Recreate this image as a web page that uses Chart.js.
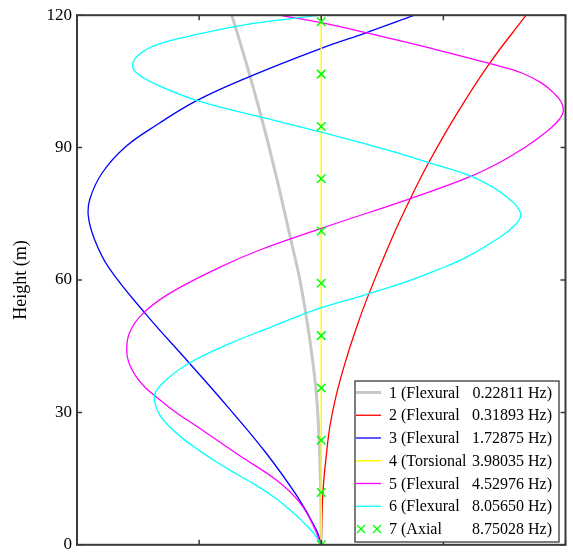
<!DOCTYPE html>
<html><head><meta charset="utf-8">
<script src="https://cdn.jsdelivr.net/npm/chart.js@4.4.1/dist/chart.umd.min.js"></script>
<style>html,body{margin:0;padding:0;background:#fff}#wrap{width:573px;height:560px;position:relative}</style>
</head><body><div id="wrap"><canvas id="c"></canvas></div>
<script>
// ---- data ----
const modeNumbers = [1, 2, 3, 4, 5, 6, 7];
const modeTypes = ["Flexural", "Flexural", "Flexural", "Torsional", "Flexural", "Flexural", "Axial"];
const modeFreqs = ["0.22811", "0.31893", "1.72875", "3.98035", "4.52976", "8.05650", "8.75028"];
const modeColors = ["#c8c8c8", "#ff0000", "#0000ff", "#ffff00", "#ff00ff", "#00ffff", "#00ff00"];
const yTicks = [0, 30, 60, 90, 120];
const xTicks = [-2, -1, 0, 1, 2];

// mode 1 (flexural)
const h1 = [0, 11.1, 22.3, 33.2, 42.3, 52.3, 60.6, 69.0, 78.4, 87.3, 96.2, 108.0, 120];
const d1 = [0, -0.004, -0.016, -0.037, -0.073, -0.126, -0.179, -0.248, -0.325, -0.402, -0.484, -0.602, -0.732];
// mode 2 (flexural)
const h2 = [0, 11.6, 21.2, 27.2, 33.8, 41.4, 48.8, 56.8, 69.0, 78.4, 86.5, 97.3, 108.8, 120];
const d2 = [0, 0.013, 0.045, 0.073, 0.122, 0.197, 0.283, 0.389, 0.572, 0.729, 0.878, 1.102, 1.371, 1.677];
// mode 3 (flexural)
const h3 = [0, 3.4, 10.9, 21.2, 31.2, 41.2, 52.1, 62.8, 69.0, 74.4, 78.4, 84.3, 90.2, 95.4, 100.6, 106.2, 112.5, 116.0, 120];
const d3 = [0, -0.041, -0.195, -0.463, -0.764, -1.081, -1.431, -1.740, -1.854, -1.907, -1.894, -1.793, -1.602, -1.333, -1.024, -0.577, 0, 0.366, 0.764];
// mode 4 (torsional)
const h4 = [0, 120];
const d4 = [0, 0];
// mode 5 (flexural)
const h5 = [0, 4.2, 9.4, 14.5, 20.5, 27.2, 30.1, 33.1, 35.6, 38.3, 41.4, 44.5, 48.1, 52.1, 56.8, 62.8, 66.8, 71.7, 78.4, 83.2, 86.8, 90.2, 93.1, 95.7, 98.0, 100.2, 102.4, 104.6, 106.9, 108.8, 112.4, 116.0, 118.3, 120];
const d5 = [0, -0.063, -0.171, -0.360, -0.685, -1.038, -1.195, -1.333, -1.439, -1.520, -1.577, -1.593, -1.569, -1.472, -1.252, -0.837, -0.504, 0, 0.724, 1.198, 1.472, 1.675, 1.821, 1.927, 1.980, 1.967, 1.902, 1.805, 1.642, 1.415, 0.911, 0.372, 0, -0.347];
// mode 6 (flexural)
const h6 = [0, 2.7, 5.3, 8.0, 10.7, 13.4, 16.0, 18.7, 21.4, 24.0, 26.7, 29.4, 32.1, 34.5, 37.6, 41.3, 45.7, 49.4, 52.0, 53.5, 56.3, 59.4, 62.3, 65.0, 69.5, 72.4, 74.6, 76.8, 78.4, 80.6, 83.6, 86.5, 88.6, 91.0, 93.2, 94.3, 96.6, 100.6, 104.4, 106.9, 108.8, 111.0, 113.3, 115.8, 118.1, 120];
const d6 = [0, -0.065, -0.154, -0.260, -0.382, -0.528, -0.691, -0.854, -1.000, -1.130, -1.240, -1.321, -1.362, -1.358, -1.260, -1.073, -0.740, -0.407, -0.171, -0.024, 0.317, 0.675, 0.951, 1.179, 1.455, 1.585, 1.634, 1.598, 1.537, 1.431, 1.220, 0.894, 0.650, 0.341, 0.041, -0.114, -0.447, -1.008, -1.358, -1.512, -1.545, -1.496, -1.350, -0.992, -0.569, 0];
// mode 7 (axial)
const h7 = [0, 11.85, 23.7, 35.55, 47.4, 59.25, 71.1, 82.95, 94.8, 106.65, 118.5];
const d7 = [0, 0, 0, 0, 0, 0, 0, 0, 0, 0, 0];

const heights = [h1, h2, h3, h4, h5, h6, h7];
const disps = [d1, d2, d3, d4, d5, d6, d7];
const lineWidths = [3, 1.3, 1.3, 1.5, 1.3, 1.3, 0];

const SERIF = "'Liberation Serif', 'Times New Roman', serif";

const datasets = heights.map((hs, i) => {
  const isAxial = i === 6;
  return {
    label: modeNumbers[i] + " (" + modeTypes[i] + " " + modeFreqs[i] + " Hz)",
    data: hs.map((h, k) => ({ x: disps[i][k], y: h })),
    showLine: !isAxial,
    borderColor: modeColors[i],
    backgroundColor: modeColors[i],
    borderWidth: isAxial ? 1.5 : lineWidths[i],
    pointRadius: isAxial ? 6 : 0,
    pointStyle: isAxial ? 'crossRot' : 'circle',
    pointBorderWidth: 1.5,
    tension: 0.4,
    order: 10 - i
  };
});

const framePlugin = {
  id: 'frame',
  afterDatasetsDraw(chart) {
    const { ctx, chartArea: a, scales } = chart;
    ctx.save();
    ctx.strokeStyle = '#3a3a3a';
    ctx.lineWidth = 1.5;
    const tl = 5;
    ctx.beginPath();
    yTicks.forEach(v => {
      const y = scales.y.getPixelForValue(v);
      ctx.moveTo(a.left, y); ctx.lineTo(a.left + tl, y);
      ctx.moveTo(a.right, y); ctx.lineTo(a.right - tl, y);
    });
    xTicks.forEach(v => {
      const x = scales.x.getPixelForValue(v);
      ctx.moveTo(x, a.top); ctx.lineTo(x, a.top + tl);
      ctx.moveTo(x, a.bottom); ctx.lineTo(x, a.bottom - tl);
    });
    ctx.stroke();
    ctx.lineWidth = 2;
    ctx.strokeRect(a.left, a.top, a.right - a.left, a.bottom - a.top);

    // legend box
    const L = 355, T = 381, R = 559, B = 542;
    ctx.fillStyle = '#ffffff';
    ctx.fillRect(L, T, R - L, B - T);
    ctx.lineWidth = 1.3;
    ctx.strokeStyle = '#3a3a3a';
    ctx.strokeRect(L, T, R - L, B - T);
    ctx.font = "16px " + SERIF;
    ctx.textBaseline = 'middle';
    ctx.fillStyle = '#000';
    modeNumbers.forEach((n, i) => {
      const cy = 392.5 + i * 22.75;
      if (i === 6) {
        ctx.strokeStyle = modeColors[i];
        ctx.lineWidth = 1.3;
        [361, 377].forEach(cx => {
          ctx.beginPath();
          ctx.moveTo(cx - 4, cy - 4); ctx.lineTo(cx + 4, cy + 4);
          ctx.moveTo(cx - 4, cy + 4); ctx.lineTo(cx + 4, cy - 4);
          ctx.stroke();
        });
      } else {
        ctx.strokeStyle = modeColors[i];
        ctx.lineWidth = lineWidths[i];
        ctx.beginPath();
        ctx.moveTo(356, cy); ctx.lineTo(381, cy);
        ctx.stroke();
      }
      ctx.textAlign = 'left';
      ctx.fillText(n + " (" + modeTypes[i], 389, cy + 1);
      ctx.textAlign = 'right';
      ctx.fillText(modeFreqs[i] + " Hz)", 552, cy + 1);
    });
    ctx.restore();
  }
};

new Chart(document.getElementById('c'), {
  type: 'scatter',
  data: { datasets },
  options: {
    responsive: true,
    maintainAspectRatio: false,
    animation: false,
    layout: { padding: { top: 13, right: 4, bottom: 8, left: 0 } },
    plugins: { legend: { display: false }, tooltip: { enabled: false } },
    scales: {
      x: { type: 'linear', min: -2, max: 2, display: false },
      y: {
        type: 'linear', min: 0, max: 120,
        afterFit(scale) { scale.width = 77; },
        afterBuildTicks(scale) { scale.ticks = yTicks.map(v => ({ value: v })); },
        grid: { display: false, drawTicks: false, tickLength: 0 },
        border: { display: false },
        ticks: { color: '#000', padding: 5, font: { family: SERIF, size: 17 } },
        title: { display: true, text: 'Height (m)', color: '#000', padding: { top: 10, bottom: 0 }, font: { family: SERIF, size: 18, lineHeight: 1.2 } }
      }
    }
  },
  plugins: [framePlugin]
});
</script>
</body></html>
